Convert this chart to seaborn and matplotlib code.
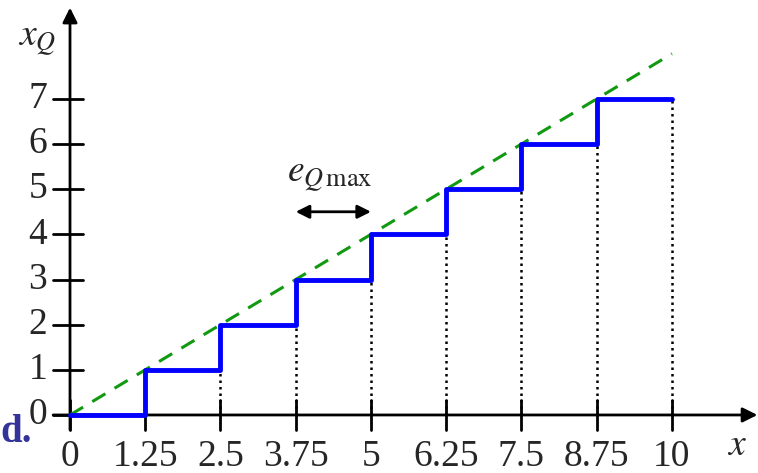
import numpy as np
import pandas as pd
import matplotlib
matplotlib.use("Agg")
import matplotlib.pyplot as plt
import seaborn as sns

# data
step_x = [0, 1.25, 2.5, 3.75, 5, 6.25, 7.5, 8.75, 10]
step_y = [0, 1, 2, 3, 4, 5, 6, 7, 7]
ideal_x = [0, 10]
ideal_y = [0, 8]
x_ticks = [0, 1.25, 2.5, 3.75, 5, 6.25, 7.5, 8.75, 10]
x_tick_labels = ["0", "1.25", "2.5", "3.75", "5", "6.25", "7.5", "8.75", "10"]
y_ticks = [0, 1, 2, 3, 4, 5, 6, 7]
y_tick_labels = ["0", "1", "2", "3", "4", "5", "6", "7"]

sns.set_theme(style="white")
plt.rcParams['font.family'] = ['Liberation Serif', 'DejaVu Serif']
plt.rcParams['mathtext.fontset'] = 'stix'

fig = plt.figure(figsize=(7.58, 4.73), dpi=100)
ax = fig.add_axes([0, 0, 1, 1])
ax.set_xlim(-1.163, 11.43)
ax.set_ylim(-1.285, 9.19)
ax.axis('off')

# dotted verticals
for xv, yv in zip(step_x[2:], step_y[1:]):
    ax.vlines(xv, 0, yv, colors='black', linestyles=(0, (1, 1.6)), linewidth=1.8, zorder=1)

# ideal line
sns.lineplot(x=ideal_x, y=ideal_y, ax=ax, color='#119911', linewidth=2.2,
             linestyle=(0, (5, 3.5)), zorder=3)

# step function
df = pd.DataFrame({"x": step_x, "y": step_y})
sns.lineplot(data=df, x="x", y="y", ax=ax, drawstyle='steps-post', color='#0000ff',
             linewidth=3.5, zorder=4)

# axes
ax.annotate('', xy=(11.42, 0), xytext=(-0.28, 0),
            arrowprops=dict(arrowstyle='-|>', color='black', lw=2, mutation_scale=22,
                            shrinkA=0, shrinkB=0), zorder=2)
ax.annotate('', xy=(0, 9.02), xytext=(0, -0.33),
            arrowprops=dict(arrowstyle='-|>', color='black', lw=2, mutation_scale=22,
                            shrinkA=0, shrinkB=0), zorder=2)

# ticks
for xt, lab in zip(x_ticks, x_tick_labels):
    ax.plot([xt, xt], [-0.33, 0.33], color='black', lw=2, zorder=2)
    ax.text(xt, -0.92, lab, ha='center', va='center', fontsize=27)
for yt, lab in zip(y_ticks, y_tick_labels):
    ax.plot([-0.28, 0.22], [yt, yt], color='black', lw=2, zorder=2)
    ax.text(-0.38, yt, lab, ha='right', va='center', fontsize=27)

# labels
ax.text(-0.55, 8.3, r'$x_Q$', ha='center', va='center', fontsize=27)
ax.text(11.08, -0.68, r'$x$', ha='center', va='center', fontsize=27)
ax.text(4.32, 5.3, r'$e_{Q\,\mathrm{max}}$', ha='center', va='center', fontsize=27)
ax.annotate('', xy=(3.75, 4.5), xytext=(5.0, 4.5),
            arrowprops=dict(arrowstyle='<|-|>', color='black', lw=2, mutation_scale=20,
                            shrinkA=0, shrinkB=0))

# slide text at left edge
fig.text(0.0, 0.085, 'd.', color='#333399', fontsize=28, fontweight='bold',
         ha='left', va='center')

fig.savefig('out.png', dpi=100)
